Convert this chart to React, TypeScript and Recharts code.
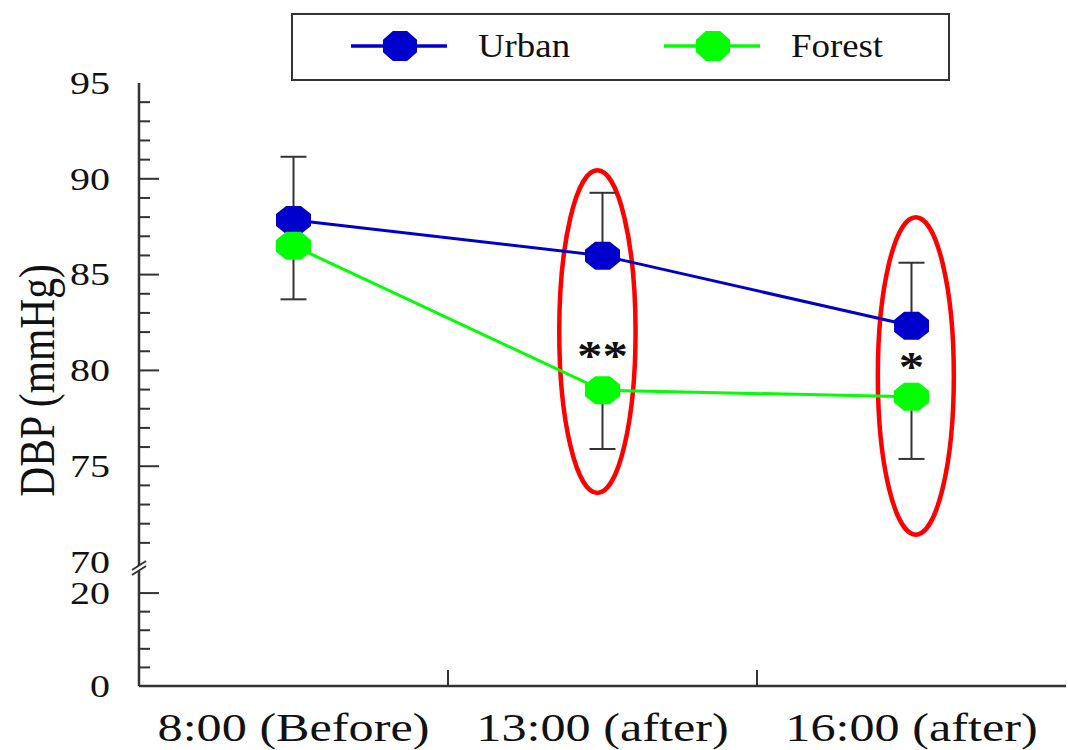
import React from 'react';
import {
  ComposedChart,
  Line,
  XAxis,
  YAxis,
  ErrorBar,
  ReferenceArea,
  ReferenceDot,
  Legend,
  Label,
} from 'recharts';

// ---------- data ----------
const categories = ['8:00 (Before)', '13:00 (after)', '16:00 (after)'];
const seriesNames = ['Urban', 'Forest'];
const seriesColors = ['#0000cc', '#00ff00'];
const urbanMean = [87.85, 85.99, 82.33];
const urbanErrUp = [3.3, 3.28, 3.29];
const forestMean = [86.5, 78.96, 78.63];
const forestErrDown = [2.79, 3.06, 3.25];
const sigMarks = ['', '**', '*'];
const sigLevel = [null, 81.03, 80.44];
// highlight ellipses (x in category units, y in mmHg)
const highlightX = [
  [1.36, 1.607],
  [2.391, 2.637],
];
const highlightY = [
  [73.6, 90.44],
  [71.43, 88.0],
];
const lowerTicks = [0, 4, 8, 12, 16, 20];
const upperTicks = [70, 71, 72, 73, 74, 75, 76, 77, 78, 79, 80, 81, 82, 83, 84, 85, 86, 87, 88, 89, 90, 91, 92, 93, 94, 95];
const majorTickLabels = [0, 20, 70, 75, 80, 85, 90, 95];

// ---------- broken axis transform ----------
const LOWER_MAX = 20;
const UPPER_MIN = 70;
const UPPER_MAX = 95;
const LOWER_SPAN = 4.85; // height of lower segment in upper-segment units
const GAP = 1.62;
const tf = (v: number) =>
  v <= LOWER_MAX ? (v * LOWER_SPAN) / LOWER_MAX : LOWER_SPAN + GAP + (v - UPPER_MIN);
const T_MAX = tf(UPPER_MAX);
const BREAK_T = LOWER_SPAN + GAP * 0.71;
const k = (t: number) => t.toFixed(4);

type TickInfo = { label: string; major: boolean; line: boolean; brk?: boolean };
const tickInfo = new Map<string, TickInfo>();
[...lowerTicks, ...upperTicks].forEach((v) => {
  const major = majorTickLabels.includes(v);
  tickInfo.set(k(tf(v)), {
    label: major ? String(v) : '',
    major,
    line: v !== 70 && v !== 0 && v !== 95,
  });
});
tickInfo.set(k(BREAK_T), { label: '', major: false, line: false, brk: true });
const yTicks = [...lowerTicks.map(tf), BREAK_T, ...upperTicks.map(tf)];

const data = categories.map((c, i) => ({
  x: i + 0.5,
  category: c,
  urban: tf(urbanMean[i]),
  forest: tf(forestMean[i]),
  urbanErr: [0, urbanErrUp[i]],
  forestErr: [forestErrDown[i], 0],
}));

const SERIF = '"Liberation Serif", "Times New Roman", serif';
const AXIS = '#333';

const octagonPoints = (cx: number, cy: number, rx: number, ry: number) => {
  const a = 0.42;
  const pts = [
    [cx - rx * a, cy - ry],
    [cx + rx * a, cy - ry],
    [cx + rx, cy - ry * a],
    [cx + rx, cy + ry * a],
    [cx + rx * a, cy + ry],
    [cx - rx * a, cy + ry],
    [cx - rx, cy + ry * a],
    [cx - rx, cy - ry * a],
  ];
  return pts.map((p) => p.join(',')).join(' ');
};

const makeDot = (color: string, id: string) => (p: any) => {
  if (p.cx == null || p.cy == null) return <g key={`${id}-${p.index}`} />;
  return (
    <polygon
      key={`${id}-${p.index}`}
      points={octagonPoints(p.cx, p.cy, 17.5, 14)}
      fill={color}
      stroke="none"
    />
  );
};

const YTick = (props: any) => {
  const { x, y, payload } = props;
  const info = tickInfo.get(k(payload.value));
  if (!info) return <g />;
  if (info.brk) {
    return (
      <g>
        <polygon
          points={`${x - 4},${y + 2.5} ${x + 4},${y - 2.5} ${x + 4},${y - 7.5} ${x - 4},${y - 2.5}`}
          fill="#fff"
        />
        <line x1={x - 7} y1={y + 4} x2={x + 7} y2={y - 5} stroke={AXIS} strokeWidth={2} />
        <line x1={x - 7} y1={y - 1} x2={x + 7} y2={y - 10} stroke={AXIS} strokeWidth={2} />
      </g>
    );
  }
  const len = info.major ? 20 : 11;
  return (
    <g>
      {info.line && <line x1={x} y1={y} x2={x + len} y2={y} stroke={AXIS} strokeWidth={2} />}
      {info.major && (
        <text
          transform={`translate(${x - 29},${y + 10.8}) scale(1.25,1)`}
          textAnchor="end"
          fontFamily={SERIF}
          fontSize={32}
          fill="#111"
        >
          {info.label}
        </text>
      )}
    </g>
  );
};

const XTick = (props: any) => {
  const { x, y, payload } = props;
  const v = payload.value as number;
  if (Number.isInteger(v)) {
    return <line x1={x} y1={y} x2={x} y2={y - 16} stroke={AXIS} strokeWidth={2} />;
  }
  const label = categories[Math.floor(v)];
  return (
    <text
      transform={`translate(${x},${y + 55}) scale(1.24,1)`}
      textAnchor="middle"
      fontFamily={SERIF}
      fontSize={40.5}
      fill="#111"
    >
      {label}
    </text>
  );
};

const YLabel = (props: any) => {
  const vb = props.viewBox || { x: 0, y: 83, width: 139, height: 603 };
  const cx = vb.x + 54;
  const cy = vb.y + vb.height / 2 - 4;
  return (
    <text
      transform={`translate(${cx},${cy}) rotate(-90) scale(1,1.2)`}
      textAnchor="middle"
      fontFamily={SERIF}
      fontSize={41.5}
      fill="#111"
    >
      DBP (mmHg)
    </text>
  );
};

const LegendBox = () => {
  const itemX = [60, 373];
  return (
    <svg width={660} height={68} style={{ display: 'block', overflow: 'visible' }}>
      <rect x={1} y={1} width={657} height={66} fill="#fff" stroke={AXIS} strokeWidth={2} />
      {seriesNames.map((name, i) => {
        const x0 = itemX[i];
        return (
          <g key={name}>
            <line x1={x0} y1={33} x2={x0 + 96} y2={33} stroke={seriesColors[i]} strokeWidth={3.5} />
            <polygon points={octagonPoints(x0 + 49, 33, 17, 15)} fill={seriesColors[i]} />
            <text
              transform={`translate(${x0 + 127},${44}) scale(1.1,1)`}
              fontFamily={SERIF}
              fontSize={33.5}
              fill="#111"
            >
              {name}
            </text>
          </g>
        );
      })}
    </svg>
  );
};

const Ellipse = (p: any) => {
  const { x, y, width, height } = p;
  if (x == null) return <g />;
  return (
    <ellipse
      cx={x + width / 2}
      cy={y + height / 2}
      rx={Math.abs(width) / 2}
      ry={Math.abs(height) / 2}
      fill="none"
      stroke="#ff0000"
      strokeWidth={4.5}
    />
  );
};

const makeSig = (text: string) => (p: any) => (
  <text
    transform={`translate(${p.cx},${p.cy + 19}) scale(1.23,1)`}
    textAnchor="middle"
    fontFamily={SERIF}
    fontSize={41.5}
    fontWeight={600}
    fill="#111"
  >
    {text}
  </text>
);

export default function App() {
  return (
    <div style={{ position: 'absolute', left: 0, top: 0, width: 1068, height: 750, background: '#fff' }}>
      <ComposedChart
        width={1068}
        height={750}
        data={data}
        margin={{ top: 83, right: 2, bottom: 0, left: 0 }}
      >
        <XAxis
          dataKey="x"
          type="number"
          domain={[0, 3]}
          ticks={[0.5, 1, 1.5, 2, 2.5]}
          interval={0}
          height={64}
          tickSize={0}
          tickMargin={0}
          tickLine={false}
          tick={<XTick />}
          axisLine={{ stroke: AXIS, strokeWidth: 2.5 }}
        />
        <XAxis
          xAxisId="top"
          orientation="top"
          type="number"
          domain={[0, 3]}
          height={0}
          tick={false}
          tickLine={false}
          axisLine={{ stroke: AXIS, strokeWidth: 2.5 }}
        />
        <YAxis
          type="number"
          domain={[0, T_MAX]}
          ticks={yTicks}
          interval={0}
          width={139}
          tickSize={0}
          tickMargin={0}
          tickLine={false}
          tick={<YTick />}
          axisLine={{ stroke: AXIS, strokeWidth: 2.5 }}
        >
          <Label content={<YLabel />} />
        </YAxis>
        <YAxis
          yAxisId="right"
          orientation="right"
          type="number"
          domain={[0, T_MAX]}
          width={0}
          tick={false}
          tickLine={false}
          axisLine={{ stroke: AXIS, strokeWidth: 2.5 }}
        />
        {highlightX.map((hx, i) => (
          <ReferenceArea
            key={`hl-${i}`}
            x1={hx[0]}
            x2={hx[1]}
            y1={tf(highlightY[i][0])}
            y2={tf(highlightY[i][1])}
            ifOverflow="visible"
            shape={<Ellipse />}
          />
        ))}
        <Line
          dataKey="urban"
          name={seriesNames[0]}
          type="linear"
          stroke={seriesColors[0]}
          strokeWidth={3}
          dot={makeDot(seriesColors[0], 'u')}
          activeDot={false}
          isAnimationActive={false}
        >
          <ErrorBar dataKey="urbanErr" direction="y" width={13} stroke={AXIS} strokeWidth={2} isAnimationActive={false} />
        </Line>
        <Line
          dataKey="forest"
          name={seriesNames[1]}
          type="linear"
          stroke={seriesColors[1]}
          strokeWidth={3}
          dot={makeDot(seriesColors[1], 'f')}
          activeDot={false}
          isAnimationActive={false}
        >
          <ErrorBar dataKey="forestErr" direction="y" width={13} stroke={AXIS} strokeWidth={2} isAnimationActive={false} />
        </Line>
        {sigMarks.map((m, i) =>
          m && sigLevel[i] != null ? (
            <ReferenceDot
              key={`sig-${i}`}
              x={data[i].x}
              y={tf(sigLevel[i] as number)}
              r={1}
              ifOverflow="visible"
              shape={makeSig(m)}
            />
          ) : null
        )}
        <Legend
          verticalAlign="middle"
          align="center"
          layout="horizontal"
          content={<LegendBox />}
          wrapperStyle={{ position: 'absolute', top: 13, left: 291, width: 660, height: 68 }}
        />
      </ComposedChart>
    </div>
  );
}
